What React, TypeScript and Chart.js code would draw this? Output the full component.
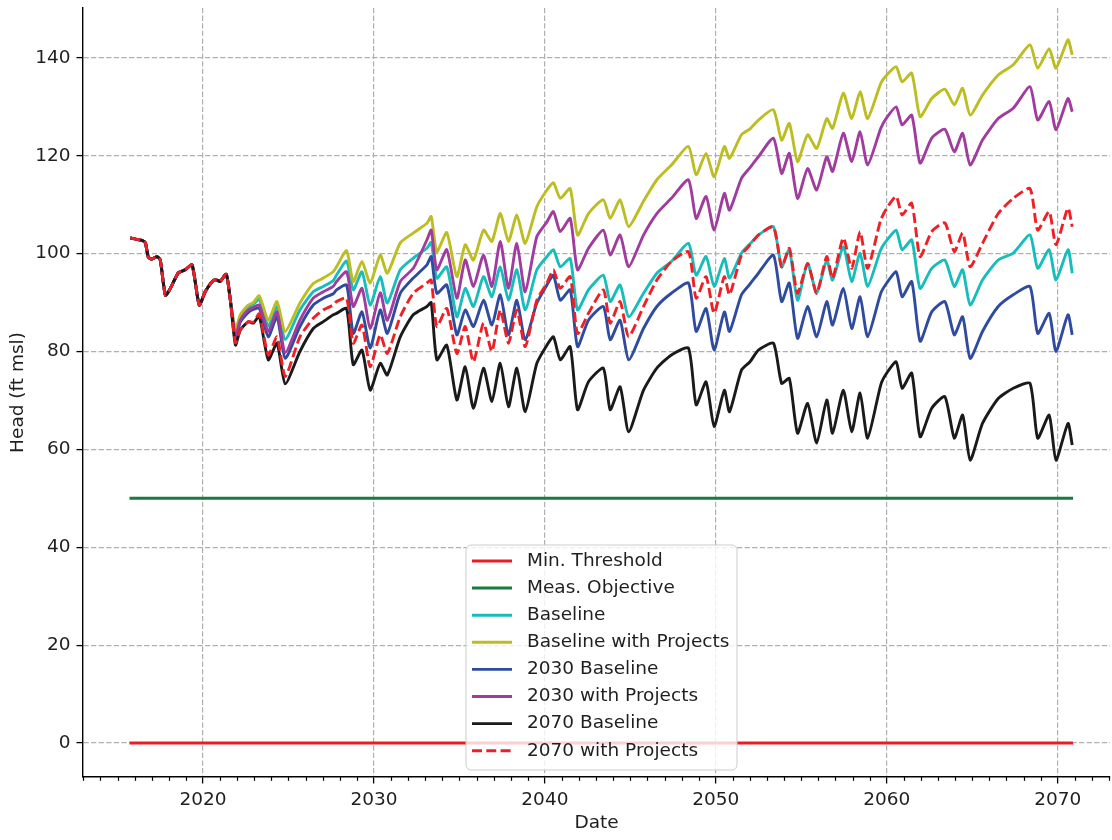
import React, { useEffect, useRef } from 'react';
import { Chart, registerables } from 'chart.js';

Chart.register(...registerables);

// ---------- data (decimal years, head in ft msl) ----------
const commonDates = [2015.75, 2016.43, 2016.63, 2016.8, 2017.02, 2017.31, 2017.5, 2017.8, 2018.09, 2018.56, 2018.96, 2019.36, 2019.78, 2020.13, 2020.6, 2020.82, 2021.0, 2021.36, 2021.6];
const commonHead = [103.2, 102.7, 102.2, 99.3, 98.9, 99.4, 98.7, 91.5, 92.9, 96.1, 96.7, 97.7, 89.5, 92.2, 94.5, 94.6, 94.3, 95.8, 90.5];

const splitDates = [
  2021.9, 2022.18, 2022.65, 2022.94, 2023.29, 2023.82, 2024.33, 2024.81, 2025.67, 2026.45, 2027.04, 2027.62, 2027.81, 2028.4,
  2028.79, 2029.3, 2029.78, 2030.37, 2030.78, 2031.54, 2032.3, 2033.1, 2033.35, 2033.68, 2034.26, 2034.85, 2035.34, 2035.82,
  2036.41, 2036.9, 2037.39, 2037.87, 2038.36, 2038.85, 2039.53, 2040.12, 2040.5, 2040.9, 2041.48, 2041.91, 2042.55,
  2043.42, 2043.82, 2044.4, 2044.9, 2045.77, 2046.55, 2047.4, 2048.4, 2048.85, 2049.43, 2049.9, 2050.5, 2050.8, 2051.5,
  2052.0, 2052.49, 2053.37, 2053.85, 2054.3, 2054.78, 2055.37, 2055.9, 2056.49, 2056.83, 2057.46, 2057.95, 2058.44, 2058.88,
  2059.65, 2060.0, 2060.55, 2060.9, 2061.46, 2061.95, 2062.63, 2063.4, 2063.95, 2064.44, 2064.88, 2065.6, 2066.52, 2067.4,
  2068.38, 2068.83, 2069.5, 2069.9, 2070.6, 2070.85,
];

const baselineWithProjects = [
  84.5, 87.5, 89.5, 90, 91.4, 86.4, 90.2, 84.1, 89.9, 93.9, 95, 96.3, 97.3, 100.6,
  94.3, 98.4, 94, 99.7, 96, 102.2, 104.2, 106.2, 107.6, 100.4, 104.3, 95.3, 101.8, 98.7,
  104.8, 102.5, 108.2, 102.5, 107.9, 102.1, 109.6, 113, 114.5, 111.3, 113.3, 103.8, 108.2,
  111, 107.2, 111, 105.5, 110.7, 115.1, 118.1, 121.9, 116.1, 120.5, 115.7, 121.9, 119.5, 124.3,
  125.5, 127.3, 129.4, 123.2, 126.6, 118.8, 124.3, 121.5, 127.6, 125.6, 132.8, 127.6, 133.1, 127.6,
  134.8, 136.5, 138.2, 135.1, 136.9, 128, 131.7, 133.6, 130.4, 133.8, 128.3, 132.4, 136.5, 138.6,
  142.7, 137.9, 141.9, 137.9, 143.7, 140.6,
];
const baseline = [
  84, 87.2, 89, 89.6, 90.7, 85.2, 89.2, 82.5, 88.5, 92.2, 93.3, 94.5, 95.6, 98.5,
  92.6, 96.3, 89.5, 95.3, 89.9, 96.7, 99.1, 101.1, 102.3, 95, 97.3, 87.1, 92.9, 89.2,
  95.3, 91.2, 97.3, 90.5, 96.7, 88.5, 96.7, 99.4, 100.8, 97.3, 99, 88.5, 92.6,
  95.6, 90.2, 93.6, 87.1, 91.9, 96, 98.4, 102.1, 95.6, 99.4, 93.3, 99, 95, 100.1,
  102, 103.8, 105.5, 97.3, 100.8, 90.5, 98, 91.9, 98.7, 94.6, 101.4, 94.3, 100.1, 93.3,
  100.8, 102.7, 104.8, 100.8, 102.8, 92.9, 97, 98.7, 93.3, 96.7, 89.5, 94.6, 98.7, 100.1,
  103.8, 97, 100.8, 94.6, 100.8, 96,
];
const withProjects2030 = [
  83, 86.4, 88.5, 89, 89.5, 84.1, 88.1, 79.8, 86.4, 90.9, 92.2, 93.3, 94.3, 96.3,
  89.2, 92.9, 84.7, 92, 86.4, 94.3, 97, 102.8, 104.8, 96.7, 100.8, 90.9, 98.7, 93.3,
  99.7, 93.3, 102.5, 92.9, 102.1, 92.2, 103.5, 106.5, 108.6, 104.5, 107.2, 96.7, 101.1,
  104.8, 99.7, 103.8, 97.3, 103.8, 108.2, 111.3, 115.1, 107.2, 111.7, 104.8, 112.3, 108.9, 115.4,
  117.6, 119.8, 123.6, 116.4, 120.5, 111.3, 117.4, 113, 119.8, 116.8, 124.6, 118.8, 124.9, 118.1,
  125.6, 127.8, 130, 126.3, 128.3, 118.5, 123.6, 125.4, 120.8, 124.6, 118.1, 123.2, 127.6, 129.7,
  134.1, 127.3, 131.1, 125.3, 131.7, 129,
];
const baseline2030 = [
  82.5, 86, 88, 88.6, 88.9, 83, 87.1, 78.6, 85.1, 89.5, 90.9, 91.8, 92.6, 93.6,
  83.7, 88.1, 80.7, 88.5, 83.7, 91.9, 95, 97.7, 99.4, 91.9, 93.6, 83.4, 88.5, 85.1,
  90.5, 85.4, 91.6, 83.4, 90.5, 82.4, 89.9, 93.6, 95.6, 90.5, 92.6, 81, 86.4,
  89.2, 82.4, 86.4, 78.3, 84.7, 89.2, 91.9, 94, 84.1, 88.8, 80.3, 88.1, 84.1, 91.6,
  93.8, 96, 99.7, 90.2, 94, 82.7, 89.2, 83, 90.2, 85.4, 92.9, 84.7, 91.2, 83,
  91.9, 94, 96.3, 91.2, 94.3, 82.1, 88.1, 90.2, 83.4, 87.1, 78.6, 84.1, 89.2, 91.6,
  93.3, 83.7, 87.8, 80, 87.5, 83.4,
];
const baseline2070 = [
  81.3, 84.4, 86.1, 85.8, 87.2, 78.3, 81.7, 73.4, 80, 84.7, 86.1, 87.5, 87.8, 88.8,
  77.3, 80.3, 72.1, 77.6, 75.2, 83, 87.5, 89.2, 90, 78.3, 81.3, 70.1, 76.9, 68.4,
  76.6, 69.8, 77.6, 68.7, 76.6, 67.7, 77.6, 81.3, 83, 78.3, 81, 68.1, 73.8,
  76.6, 68.1, 72.8, 63.6, 72.1, 76.6, 79.3, 80.7, 69.1, 73.8, 64.7, 72.1, 67.7, 76.2,
  77.9, 80.3, 81.7, 73.5, 74.5, 63.3, 69.4, 61.3, 70.1, 63.3, 72.1, 63.6, 71.5, 62.3,
  73.2, 75.6, 77.9, 72.5, 75.6, 62.6, 68.4, 70.8, 62.3, 67, 57.8, 65.3, 70.4, 72.5,
  73.5, 62.3, 67, 57.8, 65.3, 60.9,
];
const withProjects2070 = [
  81.8, 84.4, 86.1, 86, 87.7, 79.3, 83, 74.9, 83, 86.8, 88.5, 89.5, 90.2, 90.9,
  81.7, 85.4, 76.9, 83.4, 79.6, 87.1, 91.9, 94, 94.6, 85.1, 88.8, 79.6, 85.1, 77.9,
  85.8, 80, 88.5, 81.7, 88.5, 81, 90.5, 94, 96.7, 92.9, 95.3, 83.7, 87.8,
  92.6, 85.8, 90.2, 83, 89.2, 94.6, 98.4, 100.4, 90.9, 95.3, 87.8, 95.3, 91.6, 99.7,
  101.8, 103.8, 105.5, 97.3, 101.1, 91.9, 98, 91.9, 99.4, 95, 103.2, 97, 104.5, 97,
  106.9, 109.3, 111.7, 107.9, 110.3, 99.4, 104.5, 106.3, 100.4, 104.2, 97.3, 102.1, 108.2, 111.3,
  113.3, 104.8, 108.6, 101.8, 109.3, 105.5,
];

const thresholdDates = [2015.7, 2070.9];
const minThreshold = [0, 0];
const measObjective = [50, 50];

const yearTicks: number[] = [];
for (let y = 2013; y <= 2073; y++) yearTicks.push(y);
const headTicks = [0, 20, 40, 60, 80, 100, 120, 140];

const FONT = '"DejaVu Sans", "Liberation Sans", sans-serif';
const TEXT = '#1f1f1f';
const FS = 18.5;

function pts(dates: number[], vals: number[]) {
  return dates.map((d, i) => ({ x: d, y: vals[i] }));
}

const legendPlugin = {
  id: 'boxLegend',
  afterDraw(chart: any) {
    const ctx = chart.ctx;
    const x0 = 466, y0 = 545, w = 271, h = 225, r = 5;
    ctx.save();
    ctx.beginPath();
    ctx.moveTo(x0 + r, y0);
    ctx.lineTo(x0 + w - r, y0);
    ctx.arcTo(x0 + w, y0, x0 + w, y0 + r, r);
    ctx.lineTo(x0 + w, y0 + h - r);
    ctx.arcTo(x0 + w, y0 + h, x0 + w - r, y0 + h, r);
    ctx.lineTo(x0 + r, y0 + h);
    ctx.arcTo(x0, y0 + h, x0, y0 + h - r, r);
    ctx.lineTo(x0, y0 + r);
    ctx.arcTo(x0, y0, x0 + r, y0, r);
    ctx.closePath();
    ctx.fillStyle = 'rgba(255,255,255,0.8)';
    ctx.fill();
    ctx.strokeStyle = '#cccccc';
    ctx.lineWidth = 1;
    ctx.stroke();
    ctx.font = `${FS}px ${FONT}`;
    ctx.textBaseline = 'middle';
    ctx.textAlign = 'left';
    chart.data.datasets.forEach((ds: any, i: number) => {
      const cy = 561 + i * 27.1;
      ctx.save();
      ctx.strokeStyle = ds.borderColor;
      ctx.lineWidth = ds.borderWidth;
      ctx.setLineDash(ds.borderDash || []);
      ctx.beginPath();
      ctx.moveTo(x0 + 6, cy);
      ctx.lineTo(x0 + 46, cy);
      ctx.stroke();
      ctx.restore();
      ctx.fillStyle = TEXT;
      ctx.fillText(ds.label, x0 + 61, cy);
    });
    ctx.restore();
  },
};

const minorTickPlugin = {
  id: 'minorTicks',
  afterDraw(chart: any) {
    const s = chart.scales.x;
    const ctx = chart.ctx;
    ctx.save();
    ctx.strokeStyle = '#000';
    ctx.lineWidth = 1.2;
    yearTicks.forEach((y) => {
      if (y % 10 === 0) return;
      const px = Math.round(s.getPixelForValue(y)) + 0.5;
      ctx.beginPath();
      ctx.moveTo(px, s.top);
      ctx.lineTo(px, s.top + 3.8);
      ctx.stroke();
    });
    ctx.restore();
  },
};

export default function App() {
  const ref = useRef<HTMLCanvasElement | null>(null);

  useEffect(() => {
    if (!ref.current) return;
    const dates = [...commonDates, ...splitDates];
    const full = (arr: number[]) => [...commonHead, ...arr];
    const series = [
      { label: 'Min. Threshold', data: pts(thresholdDates, minThreshold), color: '#ec1c24', width: 3, dash: [] as number[] },
      { label: 'Meas. Objective', data: pts(thresholdDates, measObjective), color: '#1b7a3e', width: 3, dash: [] },
      { label: 'Baseline', data: pts(dates, full(baseline)), color: '#17bdbb', width: 2.9, dash: [] },
      { label: 'Baseline with Projects', data: pts(dates, full(baselineWithProjects)), color: '#bcbd22', width: 2.9, dash: [] },
      { label: '2030 Baseline', data: pts(dates, full(baseline2030)), color: '#2f4b9e', width: 2.9, dash: [] },
      { label: '2030 with Projects', data: pts(dates, full(withProjects2030)), color: '#a03c9e', width: 2.9, dash: [] },
      { label: '2070 Baseline', data: pts(dates, full(baseline2070)), color: '#1a1a1a', width: 2.9, dash: [] },
      { label: '2070 with Projects', data: pts(dates, full(withProjects2070)), color: '#ee2025', width: 2.9, dash: [10, 4.3] },
    ];
    const n = series.length;
    const chart = new Chart(ref.current, {
      type: 'line',
      data: {
        datasets: series.map((s, i) => ({
          label: s.label,
          data: s.data,
          borderColor: s.color,
          backgroundColor: s.color,
          borderWidth: s.width,
          borderDash: s.dash,
          pointRadius: 0,
          fill: false,
          tension: 0.2,
          borderJoinStyle: 'round',
          order: n - i,
        })),
      },
      options: {
        animation: false,
        responsive: false,
        devicePixelRatio: 1,
        events: [],
        parsing: false,
        layout: { padding: { top: 8, right: 2, left: 0, bottom: 0 } },
        plugins: { legend: { display: false }, tooltip: { enabled: false }, title: { display: false } },
        scales: {
          x: {
            type: 'linear',
            min: 2012.98,
            max: 2073.06,
            afterBuildTicks: (s: any) => { s.ticks = yearTicks.map((v) => ({ value: v })); },
            afterFit: (s: any) => { s.height = 63; s.paddingLeft = 0; s.paddingRight = 0; },
            ticks: {
              autoSkip: false,
              maxRotation: 0,
              minRotation: 0,
              padding: 6,
              color: TEXT,
              font: { family: FONT, size: FS },
              callback: (v: any) => (Number(v) % 10 === 0 ? String(v) : ''),
            },
            grid: {
              color: (c: any) => (c.tick && c.tick.value % 10 === 0 ? '#b0b0b0' : 'rgba(0,0,0,0)'),
              lineWidth: 1.2,
              tickColor: (c: any) => (c.tick && c.tick.value % 10 === 0 ? '#000' : 'rgba(0,0,0,0)'),
              tickLength: 6.5,
              tickWidth: 1.3,
              tickBorderDash: [],
            },
            border: { display: true, color: '#000', width: 1.4, dash: [5.3, 2.3] },
            title: { display: true, text: 'Date', color: TEXT, font: { family: FONT, size: FS }, padding: { top: 0, bottom: 6 } },
          },
          y: {
            type: 'linear',
            min: -6.95,
            max: 150.2,
            afterBuildTicks: (s: any) => { s.ticks = headTicks.map((v) => ({ value: v })); },
            afterFit: (s: any) => { s.width = 83; s.paddingTop = 0; s.paddingBottom = 0; },
            ticks: {
              padding: 6,
              color: TEXT,
              font: { family: FONT, size: FS },
              callback: (v: any) => String(v),
            },
            grid: {
              color: '#b0b0b0',
              lineWidth: 1.2,
              tickColor: '#000',
              tickLength: 6.5,
              tickWidth: 1.3,
              tickBorderDash: [],
            },
            border: { display: true, color: '#000', width: 1.4, dash: [5.3, 2.3] },
            title: { display: true, text: 'Head (ft msl)', color: TEXT, font: { family: FONT, size: FS }, padding: { top: 7, bottom: 0 } },
          },
        },
      } as any,
      plugins: [minorTickPlugin, legendPlugin],
    });
    return () => chart.destroy();
  }, []);

  return (
    <div style={{ position: 'absolute', left: 0, top: 0, width: 1112, height: 840, background: '#fff' }}>
      <canvas ref={ref} width={1112} height={840} style={{ display: 'block' }} />
    </div>
  );
}
